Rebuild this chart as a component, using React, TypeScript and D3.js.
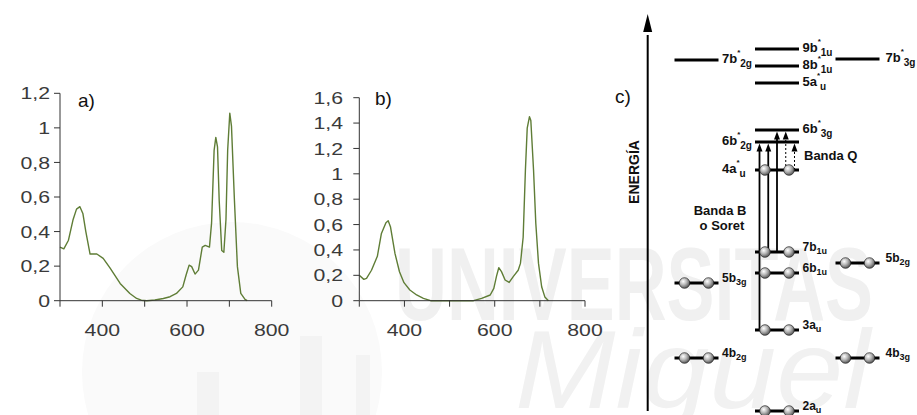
import React from "react";
import * as d3 from "d3";

// espectro a)
const nmA = [300, 309, 320, 331, 339, 347, 354, 361, 371, 387, 402, 418, 442, 465, 481, 492, 505, 524, 544, 560, 575, 590, 598, 605, 611, 619, 627, 636, 643, 653, 658, 664, 668, 672, 676, 682, 687, 692, 696, 701, 705, 712, 719, 727, 737, 742];
const absA = [0.31, 0.3, 0.35, 0.47, 0.53, 0.544, 0.505, 0.4, 0.27, 0.27, 0.245, 0.19, 0.1, 0.042, 0.013, 0.003, 0, 0.004, 0.013, 0.023, 0.042, 0.08, 0.15, 0.206, 0.197, 0.154, 0.177, 0.31, 0.32, 0.31, 0.45, 0.87, 0.945, 0.89, 0.58, 0.29, 0.28, 0.47, 0.87, 1.085, 1.01, 0.58, 0.197, 0.042, 0.008, 0];

// espectro b)
const nmB = [300, 310, 316, 327, 340, 349, 359, 364, 369, 379, 389, 399, 412, 427, 442, 458, 553, 571, 590, 598, 604, 609, 615, 623, 632, 641, 652, 657, 663, 668, 672, 677, 680, 686, 691, 697, 704, 711, 719];
const absB = [0.2, 0.168, 0.176, 0.24, 0.35, 0.53, 0.615, 0.63, 0.583, 0.373, 0.228, 0.142, 0.084, 0.045, 0.018, 0, 0, 0.018, 0.045, 0.097, 0.194, 0.26, 0.229, 0.163, 0.144, 0.19, 0.24, 0.294, 0.5, 1.03, 1.36, 1.45, 1.42, 1.03, 0.61, 0.294, 0.11, 0.03, 0];

const yTicksA = [0, 0.2, 0.4, 0.6, 0.8, 1, 1.2];
const yTicksB = [0, 0.2, 0.4, 0.6, 0.8, 1, 1.2, 1.4, 1.6];
const xTicks = [300, 400, 500, 600, 700, 800];
const xLabels = [400, 600, 800];

// niveles de energia (c)
const levelMain = ["7b", "9b", "8b", "5a", "7b", "6b", "6b", "4a", "7b", "6b", "5b", "5b", "3a", "4b", "4b", "2a"];
const levelSub = ["2g", "1u", "1u", "u", "3g", "3g", "2g", "u", "1u", "1u", "2g", "3g", "u", "2g", "3g", "u"];
const levelStar = [true, true, true, true, true, true, true, true, false, false, false, false, false, false, false, false];
const levelCol = ["left", "center", "center", "center", "right", "center", "center", "center", "center", "center", "right", "left", "center", "left", "right", "center"];
const levelEnergy = [355, 366, 349, 332, 356, 285, 273, 245, 163, 142, 152, 132, 85, 57, 57, 4];
const levelElectrons = [0, 0, 0, 0, 0, 0, 0, 2, 2, 2, 2, 2, 2, 2, 2, 2];
const levelLabelLeft = [false, false, false, false, false, false, true, true, false, false, false, false, false, false, false, false];

// transiciones (indices de nivel)
const transFrom = [12, 8, 8, 7, 7];
const transTo = [6, 6, 5, 5, 6];
const transDotted = [false, false, false, true, true];

const W = 917;
const H = 415;
const green = "#5f7d36";
const axisCol = "#333";
const tickFont = "'Liberation Sans', Arial, sans-serif";

const fmt = (v: number) => String(+v.toFixed(1)).replace(".", ",");

type SpecProps = {
  nm: number[];
  ab: number[];
  yTicks: number[];
  x0: number;
  x1: number;
  yTop: number;
  labelRight: number;
  tag: string;
  tagX: number;
  tagY: number;
};

const Spectrum = ({ nm, ab, yTicks, x0, x1, yTop, labelRight, tag, tagX, tagY }: SpecProps) => {
  const y0 = 300.7;
  const x = d3.scaleLinear().domain([300, 800]).range([x0, x1]);
  const y = d3.scaleLinear().domain([0, d3.max(yTicks) as number]).range([y0, yTop]);
  const line = d3
    .line<number>()
    .x((d, i) => x(nm[i]))
    .y((d) => y(d));
  return (
    <g>
      <path d={line(ab) || ""} fill="none" stroke={green} strokeWidth={1.4} strokeLinejoin="round" />
      <line x1={x0} x2={x0} y1={y(0)} y2={yTop} stroke={axisCol} />
      <line x1={x0} x2={x1} y1={y(0)} y2={y(0)} stroke={axisCol} />
      {yTicks.map((t) => (
        <g key={t}>
          <line x1={x0 - 6} x2={x0} y1={y(t)} y2={y(t)} stroke={axisCol} />
          <text
            transform={`translate(${labelRight},${y(t)}) scale(1.25,1)`}
            dy="0.36em"
            textAnchor="end"
            fontSize={17}
            fontFamily={tickFont}
            fill="#3a3a3a"
          >
            {fmt(t)}
          </text>
        </g>
      ))}
      {xTicks.map((t) => (
        <line key={t} x1={x(t)} x2={x(t)} y1={y(0)} y2={y(0) + 6} stroke={axisCol} />
      ))}
      {xLabels.map((t) => (
        <text
          key={t}
          transform={`translate(${x(t)},330) scale(1.25,1)`}
          dy="0.36em"
          textAnchor="middle"
          fontSize={17}
          fontFamily={tickFont}
          fill="#3a3a3a"
        >
          {t}
        </text>
      ))}
      <text x={tagX} y={tagY} fontSize={19} fontFamily={tickFont} fill="#111">
        {tag}
      </text>
    </g>
  );
};

const Diagram = () => {
  const ey = d3.scaleLinear().domain([0, 400]).range([H, 15]);
  const col = d3.scalePoint<string>().domain(["left", "center", "right"]).range([696.5, 857.5]);
  const half = 22;
  const axX = 647.7;
  const tx = d3
    .scalePoint<number>()
    .domain(transFrom.map((_, i) => i))
    .range([759.5, 794.5]);
  const lab = "'Liberation Sans', Arial, sans-serif";
  return (
    <g fontFamily={lab} fontWeight="bold" fill="#111">
      <defs>
        <radialGradient id="ball" cx="0.38" cy="0.35" r="0.7">
          <stop offset="0" stopColor="#ffffff" />
          <stop offset="0.45" stopColor="#b9b9b9" />
          <stop offset="1" stopColor="#4a4a4a" />
        </radialGradient>
      </defs>
      {/* eje de energia */}
      <line x1={axX} x2={axX} y1={ey(4)} y2={ey(380)} stroke="#000" strokeWidth={2} />
      <path d={`M${axX},${ey(401)} L${axX - 4.5},${ey(383)} L${axX + 4.5},${ey(383)} Z`} fill="#000" />
      <text transform={`translate(639,172) rotate(-90)`} textAnchor="middle" fontSize={14}>
        ENERGÍA
      </text>
      <text x={615} y={103} fontSize={19} fontWeight="normal">
        c)
      </text>

      {/* transiciones */}
      {transFrom.map((f, i) => {
        const xx = tx(i) as number;
        const yA = ey(levelEnergy[f]);
        const yB = ey(levelEnergy[transTo[i]]) + 1.5;
        return (
          <g key={i}>
            <line
              x1={xx}
              x2={xx}
              y1={yA}
              y2={yB + 6}
              stroke="#000"
              strokeWidth={transDotted[i] ? 1 : 1.8}
              strokeDasharray={transDotted[i] ? "2 2" : undefined}
            />
            <path d={`M${xx},${yB} L${xx - 3},${yB + 8} L${xx + 3},${yB + 8} Z`} fill="#000" />
          </g>
        );
      })}

      {/* niveles */}
      {levelMain.map((m, i) => {
        const cx = col(levelCol[i]) as number;
        const yy = ey(levelEnergy[i]);
        const upper = levelStar[i];
        const fs = upper ? 13 : 12;
        const lx = levelLabelLeft[i] ? cx - 55 : cx + (levelCol[i] === "right" ? 28 : 25.5);
        return (
          <g key={i}>
            <line x1={cx - half} x2={cx + half} y1={yy} y2={yy} stroke="#000" strokeWidth={3} />
            {d3.range(levelElectrons[i]).map((k) => (
              <circle key={k} cx={cx + (k === 0 ? -12 : 12)} cy={yy} r={5.3} fill="url(#ball)" stroke="#222" strokeWidth={0.7} />
            ))}
            <text x={lx} y={upper ? yy + 3 : yy - 1} fontSize={fs}>
              {m}
              {upper ? (
                <>
                  <tspan fontSize={8} dy={-8}>
                    *
                  </tspan>
                  <tspan fontSize={10} dy={12}>
                    {levelSub[i]}
                  </tspan>
                </>
              ) : (
                <tspan fontSize={9} dy={3}>
                  {levelSub[i]}
                </tspan>
              )}
            </text>
          </g>
        );
      })}

      <text x={804} y={160} fontSize={13}>
        Banda Q
      </text>
      <text x={720} y={215} fontSize={13} textAnchor="middle">
        Banda B
      </text>
      <text x={722} y={230} fontSize={13} textAnchor="middle">
        o Soret
      </text>
    </g>
  );
};

const Watermark = () => (
  <g>
    <circle cx={232} cy={372} r={150} fill="#fafafa" />
    <rect x={197} y={372} width={22} height={50} fill="#f3f3f3" />
    <rect x={300} y={336} width={22} height={90} fill="#f3f3f3" />
    <rect x={356} y={355} width={14} height={70} fill="#f3f3f3" />
    <text x={395} y={320} fontSize={104} fontWeight="bold" fontFamily="'Liberation Sans', Arial" fill="#f0f0f0" textLength={478} lengthAdjust="spacingAndGlyphs">
      UNIVERSITAS
    </text>
    <text x={515} y={408} fontSize={112} fontStyle="italic" fontFamily="'Liberation Sans', Arial" fill="#f1f1f1" textLength={355} lengthAdjust="spacingAndGlyphs">
      Miguel
    </text>
  </g>
);

export default function App() {
  return (
    <svg width={W} height={H} style={{ position: "absolute", left: 0, top: 0, background: "#fff" }}>
      <Watermark />
      <Spectrum nm={nmA} ab={absA} yTicks={yTicksA} x0={60} x1={271.7} yTop={93.3} labelRight={50} tag="a)" tagX={78} tagY={107} />
      <Spectrum nm={nmB} ab={absB} yTicks={yTicksB} x0={359.3} x1={585} yTop={97.7} labelRight={343} tag="b)" tagX={375} tagY={105} />
      <Diagram />
    </svg>
  );
}
